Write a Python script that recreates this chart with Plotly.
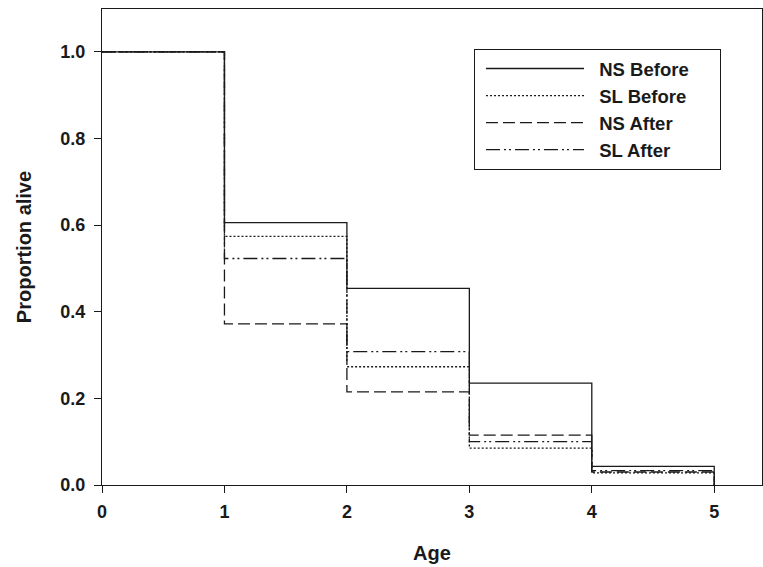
import plotly.graph_objects as go

ages = [0, 1, 2, 3, 4, 5]
ns_before = [1.0, 0.606, 0.454, 0.235, 0.043, 0.0]
sl_before = [1.0, 0.574, 0.273, 0.085, 0.028, 0.0]
ns_after = [1.0, 0.372, 0.215, 0.115, 0.030, 0.0]
sl_after = [1.0, 0.523, 0.308, 0.100, 0.033, 0.0]
series_names = ["NS Before", "SL Before", "NS After", "SL After"]
y_ticks = [0.0, 0.2, 0.4, 0.6, 0.8, 1.0]

FONT = "Liberation Sans, Arial, Helvetica, sans-serif"
INK = "#1a1a1a"

styles = ["solid", "2px,2px", "12px,5px", "14px,4px,2px,3px,2px,4px"]
data = [ns_before, sl_before, ns_after, sl_after]

fig = go.Figure()
for name, ys, dash in zip(series_names, data, styles):
    fig.add_trace(go.Scatter(
        x=ages, y=ys, name="\u00a0\u00a0" + name + "\u00a0" * 5,
        mode="lines", line_shape="hv",
        line=dict(color=INK, width=1.3, dash=dash),
    ))

fig.update_layout(
    width=763, height=567,
    margin=dict(l=102, r=1, t=9, b=82),
    paper_bgcolor="white", plot_bgcolor="white",
    font=dict(family=FONT, size=18, color=INK, weight="bold"),
    showlegend=True,
    legend=dict(
        x=0.5636, y=0.916, xanchor="left", yanchor="top",
        bordercolor=INK, borderwidth=1, bgcolor="white",
        itemwidth=98, indentation=6,
        font=dict(family=FONT, size=18.5, color=INK, weight="bold"),
        tracegroupgap=0,
    ),
    xaxis=dict(
        range=[0, 5.39], tickvals=ages, ticktext=[str(a) for a in ages],
        showline=True, linecolor=INK, linewidth=1.3, mirror=True,
        ticks="outside", ticklen=7, tickcolor=INK, tickwidth=1.3,
        ticklabelstandoff=3,
        showgrid=False, zeroline=False,
        title=dict(text="Age", standoff=25, font=dict(size=20, weight="bold")),
    ),
    yaxis=dict(
        range=[0, 1.099], tickvals=y_ticks, tickformat=".1f",
        showline=True, linecolor=INK, linewidth=1.3, mirror=True,
        ticks="outside", ticklen=7, tickcolor=INK, tickwidth=1.3,
        ticklabelstandoff=5,
        showgrid=False, zeroline=False,
        title=dict(text="Proportion alive", standoff=23, font=dict(size=20, weight="bold")),
    ),
)

fig.write_html("out.html")
